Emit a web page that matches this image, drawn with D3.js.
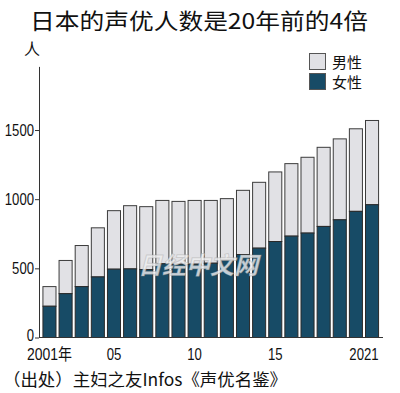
<!DOCTYPE html>
<html>
<head>
<meta charset="utf-8">
<script src="https://cdn.jsdelivr.net/npm/d3@7"></script>
<style>
  body { margin: 0; background: #fff; }
  svg { display: block; }
</style>
</head>
<body>
<svg id="chart" width="400" height="393"></svg>
<script>
// years and counts
const years = d3.range(2001, 2022);
const female = [226, 317, 368, 438, 494, 496, 491, 533, 530, 530, 537, 560, 600, 646, 694, 733, 755, 803, 851, 912, 960];
const total = [368, 557, 665, 793, 917, 953, 946, 991, 984, 991, 991, 1004, 1064, 1122, 1197, 1257, 1303, 1375, 1436, 1509, 1569];
const yTicks = [0, 500, 1000, 1500];
const xLabels = { 2001: '2001年', 2005: '05', 2010: '10', 2015: '15', 2021: '2021' };

const cjk = '"Noto Sans CJK SC", "Noto Sans", sans-serif';
const num = '"Liberation Sans", "Noto Sans CJK SC", Arial, sans-serif';
const darkCol = '#174b66';
const lightCol = '#e1e1e5';
const digitW = 7.3; // condensed digits in the original

const svg = d3.select('#chart');

// title
svg.append('text')
  .attr('x', 30).attr('y', 29)
  .attr('textLength', 338).attr('lengthAdjust', 'spacingAndGlyphs')
  .style('font-family', cjk).style('font-size', '22px').style('fill', '#111')
  .text('日本的声优人数是20年前的4倍');

// unit
svg.append('text')
  .attr('x', 24).attr('y', 55)
  .style('font-family', cjk).style('font-size', '16px').style('fill', '#111')
  .text('人');

// scales
const x = d3.scaleBand().domain(years).range([41.4, 380.1]).paddingInner(0.19).paddingOuter(0.095);
const y = d3.scaleLinear().domain([0, 1960]).range([337.5, 66.4]);

// y axis
const yAxis = svg.append('g')
  .attr('transform', 'translate(39,0)')
  .call(d3.axisLeft(y).tickValues(yTicks).tickFormat(d3.format('d'))
    .tickSize(4).tickPadding(1).tickSizeOuter(0));
yAxis.select('.domain').attr('stroke', '#333');
yAxis.selectAll('.tick line').attr('stroke', '#333');
yAxis.selectAll('.tick text')
  .attr('textLength', (d) => String(d).length * digitW)
  .attr('lengthAdjust', 'spacingAndGlyphs')
  .attr('dy', (d) => (d === 0 ? '0.2em' : '0.32em'))
  .style('font-family', num).style('font-size', '17px').style('fill', '#111');

// bars: female on bottom, male on top
const g = svg.append('g');
g.selectAll('rect.male')
  .data(years)
  .enter()
  .append('rect')
  .attr('class', 'male')
  .attr('x', (d) => x(d))
  .attr('width', x.bandwidth())
  .attr('y', (d, i) => y(total[i]))
  .attr('height', (d, i) => y(female[i]) - y(total[i]))
  .style('fill', lightCol)
  .style('stroke', '#3c3c3c')
  .style('stroke-width', 1);

g.selectAll('rect.female')
  .data(years)
  .enter()
  .append('rect')
  .attr('class', 'female')
  .attr('x', (d) => x(d))
  .attr('width', x.bandwidth())
  .attr('y', (d, i) => y(female[i]))
  .attr('height', (d, i) => y(0) - y(female[i]))
  .style('fill', darkCol)
  .style('stroke', '#2a2a2a')
  .style('stroke-width', 1);

// x axis line
svg.append('line')
  .attr('x1', 39).attr('x2', 383)
  .attr('y1', y(0)).attr('y2', y(0))
  .attr('stroke', '#333').attr('stroke-width', 1.2);

// x labels
Object.keys(xLabels).forEach((k) => {
  const yr = +k;
  const last = yr === 2021;
  svg.append('text')
    .attr('x', last ? x(yr) + x.bandwidth() : x(yr) + x.bandwidth() / 2)
    .attr('y', 360)
    .attr('text-anchor', last ? 'end' : 'middle')
    .attr('textLength', yr === 2001 ? 45 : xLabels[k].length * digitW)
    .attr('lengthAdjust', 'spacingAndGlyphs')
    .style('font-family', num)
    .style('font-size', '16px').style('fill', '#111')
    .text(xLabels[k]);
});

// legend
const legend = [['男性', lightCol], ['女性', darkCol]];
legend.forEach((l, i) => {
  svg.append('rect')
    .attr('x', 309.5).attr('y', 53.5 + i * 20)
    .attr('width', 16).attr('height', 16)
    .style('fill', l[1]).style('stroke', '#555');
  svg.append('text')
    .attr('x', 332).attr('y', 67.5 + i * 20)
    .style('font-family', cjk).style('font-size', '15px').style('fill', '#111')
    .text(l[0]);
});

// watermark
svg.append('text')
  .attr('x', 198).attr('y', 274)
  .attr('text-anchor', 'middle')
  .style('font-family', cjk).style('font-size', '24px').style('font-weight', 'bold')
  .style('font-style', 'italic')
  .style('fill', 'rgba(238,238,240,0.82)')
  .style('stroke', 'rgba(150,150,150,0.35)').style('stroke-width', 1)
  .text('日经中文网');

// source
svg.append('text')
  .attr('x', 3).attr('y', 386)
  .attr('textLength', 284).attr('lengthAdjust', 'spacingAndGlyphs')
  .style('font-family', cjk).style('font-size', '17px').style('fill', '#111')
  .text('（出处）主妇之友Infos《声优名鉴》');
</script>
</body>
</html>
